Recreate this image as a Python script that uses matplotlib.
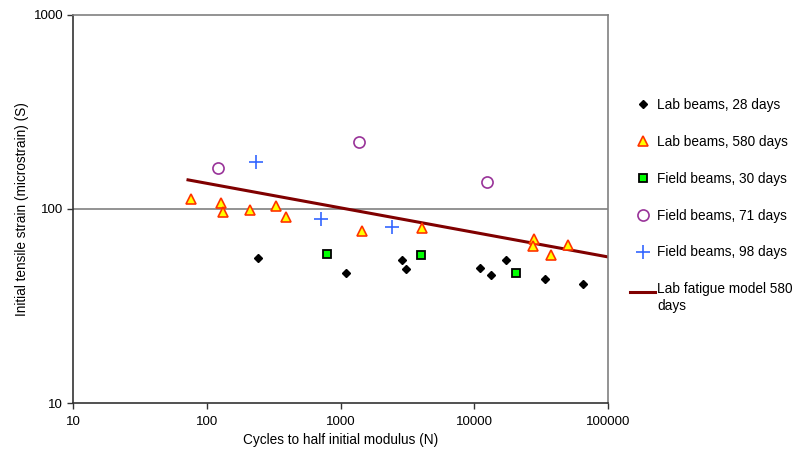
import numpy as np
import matplotlib.pyplot as plt

plt.rcParams['font.family'] = ['Liberation Sans', 'DejaVu Sans']

# lab beams, 28 days
lab28_n = [242, 1100, 2880, 3090, 11000, 13300, 17300, 33800, 65000]
lab28_s = [55.9, 46.8, 54.6, 49.1, 49.7, 45.7, 54.6, 43.6, 41.0]

# lab beams, 580 days
lab580_n = [76, 128, 132, 210, 330, 391, 1450, 4070, 28000, 27500, 37500, 50200]
lab580_s = [112.6, 107.4, 96.5, 98.8, 103.6, 90.9, 77.1, 79.8, 70.0, 64.5, 57.9, 65.3]

# field beams
field30_n = [793, 4000, 20500]
field30_s = [58.6, 57.9, 46.8]
field71_n = [121, 1374, 12450]
field71_s = [162.7, 221.3, 137.8]
field98_n = [234, 715, 2430]
field98_s = [174.8, 88.8, 80.8]

# fatigue model end points
model_n = [72.4, 100000]
model_s = [141.3, 56.6]

fig = plt.figure(figsize=(7.95, 4.54), dpi=100)
ax = fig.add_axes([0.0918, 0.1123, 0.6732, 0.8547])

ax.plot(lab28_n, lab28_s, linestyle='none', marker='D', ms=4, color='black',
        label='Lab beams, 28 days', zorder=3)
ax.plot(lab580_n, lab580_s, linestyle='none', marker='^', ms=7.5, mfc='#FFFF00',
        mec='#FF3300', mew=1.2, label='Lab beams, 580 days', zorder=3)
ax.plot(field30_n, field30_s, linestyle='none', marker='s', ms=5.5, mfc='#00FF00',
        mec='black', mew=1.3, label='Field beams, 30 days', zorder=3)
ax.plot(field71_n, field71_s, linestyle='none', marker='o', ms=8, mfc='none',
        mec='#993399', mew=1.2, label='Field beams, 71 days', zorder=3)
ax.plot(field98_n, field98_s, linestyle='none', marker='+', ms=10, color='#3366FF',
        mew=1.2, label='Field beams, 98 days', zorder=3)
ax.plot(model_n, model_s, color='#800000', lw=2.2,
        label='Lab fatigue model 580\ndays', zorder=2)

ax.set_xscale('log')
ax.set_yscale('log')
ax.set_xlim(10, 100000)
ax.set_ylim(10, 1000)
ax.set_xticks([10, 100, 1000, 10000, 100000])
ax.set_xticklabels(['10', '100', '1000', '10000', '100000'])
ax.set_yticks([10, 100, 1000])
ax.set_yticklabels(['10', '100', '1000'])
ax.minorticks_off()
ax.tick_params(direction='out', length=4, width=1, labelsize=9.5, color='#333333')
ax.tick_params(axis='x', pad=5)
ax.tick_params(axis='y', pad=3)

ax.axhline(100, color='#808080', lw=1.2, zorder=1)
for side in ['top', 'right']:
    ax.spines[side].set_color('#808080')
    ax.spines[side].set_linewidth(1.2)
for side in ['left', 'bottom']:
    ax.spines[side].set_color('#333333')
    ax.spines[side].set_linewidth(1.2)

ax.set_xlabel('Cycles to half initial modulus (N)', fontsize=9.8, labelpad=4)
ax.set_ylabel('Initial tensile strain (microstrain) (S)', fontsize=9.8, labelpad=3)

leg = ax.legend(loc='upper left', bbox_to_anchor=(1.031, 0.8), frameon=False,
                fontsize=9.8, labelspacing=1.68, handlelength=1.85,
                handletextpad=0.15, borderaxespad=0)
# keep the model line level with the first line of its two-line label
model_handle = leg.get_lines()[-1]
model_handle.set_ydata(np.asarray(model_handle.get_ydata()) + 4.7)

fig.savefig('out.png', dpi=100)
